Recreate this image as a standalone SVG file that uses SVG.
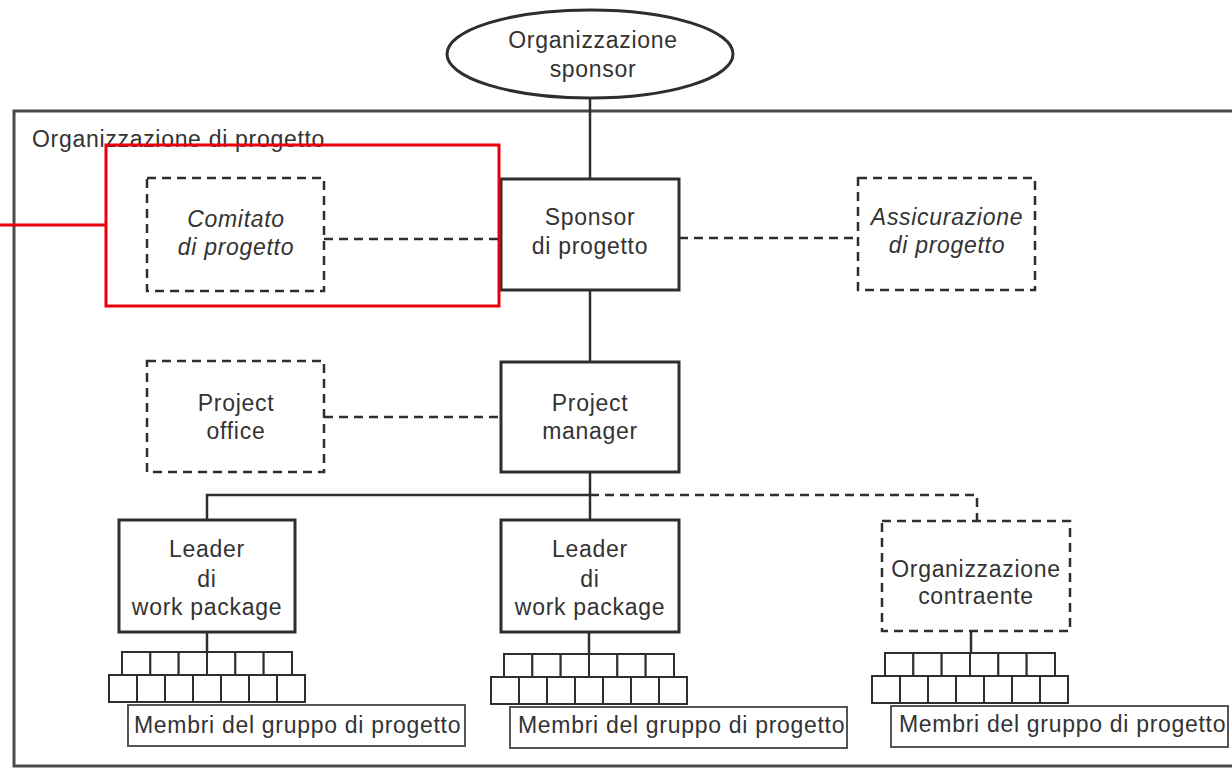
<svg xmlns="http://www.w3.org/2000/svg" xmlns:xlink="http://www.w3.org/1999/xlink" width="1232" height="768" viewBox="0 0 1232 768">
  <style>
    .frame { fill: none; stroke: #4a4a4a; stroke-width: 3; }
    .box { fill: #fff; stroke: #2e2e2e; stroke-width: 3; }
    .dbox { fill: #fff; stroke: #2e2e2e; stroke-width: 2.5; stroke-dasharray: 9 6; }
    .line { fill: none; stroke: #2e2e2e; stroke-width: 2.5; }
    .dline { fill: none; stroke: #2e2e2e; stroke-width: 2.5; stroke-dasharray: 9 6; }
    .cell { fill: #fff; stroke: #2e2e2e; stroke-width: 2; }
    .tag { fill: #fff; stroke: #555; stroke-width: 2; }
    .t { font-family: "Liberation Sans", Arial, sans-serif; font-size: 23px; letter-spacing: 0.7px; fill: #333; text-anchor: middle; }
    .ti { font-style: italic; }
    .tl { text-anchor: start; }
    .red { fill: none; stroke: #e8000b; stroke-width: 3; }
  </style>
  <defs>
    <!-- team member block: two staggered rows of cells, origin at bracket centre -->
    <g id="cells">
      <rect class="cell" x="-85" y="0" width="28.33" height="23"/>
      <rect class="cell" x="-56.67" y="0" width="28.33" height="23"/>
      <rect class="cell" x="-28.33" y="0" width="28.33" height="23"/>
      <rect class="cell" x="0" y="0" width="28.33" height="23"/>
      <rect class="cell" x="28.33" y="0" width="28.33" height="23"/>
      <rect class="cell" x="56.67" y="0" width="28.33" height="23"/>
      <rect class="cell" x="-98" y="23" width="28" height="27"/>
      <rect class="cell" x="-70" y="23" width="28" height="27"/>
      <rect class="cell" x="-42" y="23" width="28" height="27"/>
      <rect class="cell" x="-14" y="23" width="28" height="27"/>
      <rect class="cell" x="14" y="23" width="28" height="27"/>
      <rect class="cell" x="42" y="23" width="28" height="27"/>
      <rect class="cell" x="70" y="23" width="28" height="27"/>
      <rect class="tag" x="-79" y="53" width="337" height="41"/>
    </g>
  </defs>

  <rect width="1232" height="768" fill="#fff"/>

  <!-- project organisation frame (open on the right) -->
  <g id="frame">
    <rect class="frame" x="14" y="111" width="1240" height="655"/>
    <text class="t tl" x="32" y="147">Organizzazione di progetto</text>
  </g>

  <g id="connectors">
    <line class="line" x1="590" y1="98" x2="590" y2="179"/>
    <line class="line" x1="590" y1="290" x2="590" y2="362"/>
    <line class="dline" x1="324" y1="239" x2="501" y2="239"/>
    <line class="dline" x1="679" y1="238" x2="858" y2="238"/>
    <line class="dline" x1="324" y1="417" x2="501" y2="417"/>
    <line class="line" x1="590" y1="472" x2="590" y2="520"/>
    <polyline class="line" points="207,520 207,495 590,495"/>
    <polyline class="dline" points="590,495 977,495 977,521"/>
    <line class="line" x1="207" y1="632" x2="207" y2="652"/>
    <line class="line" x1="589" y1="632" x2="589" y2="655"/>
    <line class="line" x1="971" y1="631" x2="971" y2="653"/>
  </g>

  <g id="org-sponsor">
    <ellipse class="box" cx="590" cy="54" rx="143" ry="44"/>
    <text class="t" x="593" y="48">Organizzazione</text>
    <text class="t" x="593" y="77">sponsor</text>
  </g>

  <g id="sponsor-progetto">
    <rect class="box" x="501" y="179" width="178" height="111"/>
    <text class="t" x="590" y="225">Sponsor</text>
    <text class="t" x="590" y="254">di progetto</text>
  </g>

  <g id="comitato">
    <rect class="dbox" x="147" y="178" width="177" height="113"/>
    <text class="t ti" x="236" y="227">Comitato</text>
    <text class="t ti" x="236" y="255">di progetto</text>
  </g>

  <g id="assicurazione">
    <rect class="dbox" x="858" y="178" width="177" height="112"/>
    <text class="t ti" x="947" y="225">Assicurazione</text>
    <text class="t ti" x="947" y="253">di progetto</text>
  </g>

  <g id="project-office">
    <rect class="dbox" x="147" y="361" width="177" height="111"/>
    <text class="t" x="236" y="411">Project</text>
    <text class="t" x="236" y="439">office</text>
  </g>

  <g id="project-manager">
    <rect class="box" x="501" y="362" width="178" height="110"/>
    <text class="t" x="590" y="411">Project</text>
    <text class="t" x="590" y="439">manager</text>
  </g>

  <g id="leader-1">
    <rect class="box" x="119" y="520" width="176" height="112"/>
    <text class="t" x="207" y="557">Leader</text>
    <text class="t" x="207" y="587">di</text>
    <text class="t" x="207" y="615">work package</text>
  </g>

  <g id="leader-2">
    <rect class="box" x="501" y="520" width="178" height="112"/>
    <text class="t" x="590" y="557">Leader</text>
    <text class="t" x="590" y="587">di</text>
    <text class="t" x="590" y="615">work package</text>
  </g>

  <g id="contraente">
    <rect class="dbox" x="882" y="521" width="188" height="110"/>
    <text class="t" x="976" y="577">Organizzazione</text>
    <text class="t" x="976" y="604">contraente</text>
  </g>

  <g id="membri-1">
    <use xlink:href="#cells" href="#cells" transform="translate(207,652)"/>
    <text class="t tl" x="134" y="733">Membri del gruppo di progetto</text>
  </g>

  <g id="membri-2">
    <use xlink:href="#cells" href="#cells" transform="translate(589,654)"/>
    <text class="t tl" x="518" y="733">Membri del gruppo di progetto</text>
  </g>

  <g id="membri-3">
    <use xlink:href="#cells" href="#cells" transform="translate(970,653)"/>
    <text class="t tl" x="899" y="732">Membri del gruppo di progetto</text>
  </g>

  <!-- highlight callout -->
  <g id="highlight">
    <rect class="red" x="106" y="145" width="393" height="161"/>
    <line class="red" x1="0" y1="225" x2="106" y2="225"/>
  </g>
</svg>
